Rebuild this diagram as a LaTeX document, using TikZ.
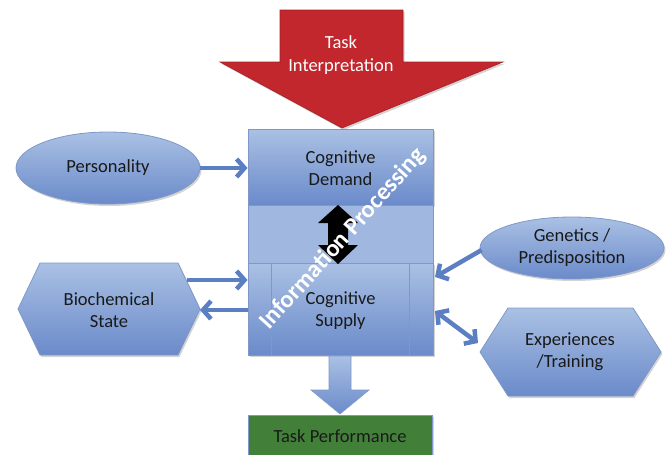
\documentclass[tikz,border=0pt]{standalone}
\usepackage{fontspec}
\setmainfont{Carlito}
\usetikzlibrary{arrows.meta,shapes.geometric,shadows}
\definecolor{bluetop}{HTML}{AAC1E4}
\definecolor{bluebot}{HTML}{6A8ACA}
\definecolor{blueedge}{HTML}{7F98C8}
\definecolor{bluemid}{HTML}{A0B7DF}
\definecolor{conn}{HTML}{5B7FC2}
\definecolor{redarrow}{HTML}{C1272D}
\definecolor{greenbox}{HTML}{42803A}
\tikzset{
  lbl/.style={font=\fontsize{18.5}{22}\selectfont, text=black!90, align=center},
  bluefill/.style={top color=bluetop, bottom color=bluebot, draw=blueedge, line width=0.8pt},
  shad/.style={drop shadow={shadow xshift=1.5pt, shadow yshift=-2pt, opacity=0.35}},
  conn/.style={draw=conn, line width=4.5pt, -{Straight Barb[length=8pt,width=18pt,line width=4.5pt]}},
  dconn/.style={draw=conn, line width=4.5pt, {Straight Barb[length=8pt,width=18pt,line width=4.5pt]}-{Straight Barb[length=8pt,width=18pt,line width=4.5pt]}},
}
\begin{document}
\begin{tikzpicture}[x=1pt,y=-1pt]
\useasboundingbox (0,0) rectangle (667,455);
% main boxes
\node[bluefill, shad, minimum width=185pt, minimum height=76pt, inner sep=0] (demand) at (340.5,167) {};
\node[fill=bluemid, draw=blueedge, line width=0.8pt, minimum width=185pt, minimum height=58pt, inner sep=0] (mid) at (340.5,234) {};
\node[bluefill, shad, minimum width=185pt, minimum height=92pt, inner sep=0] (supply) at (340.5,309) {};
\draw[blueedge, line width=0.8pt] (271,263) -- (271,355) (409,263) -- (409,355);
\node[lbl] at (340.5,168) {Cognitive\\Demand};
\node[lbl] at (340.5,311) {Cognitive\\Supply};
% black double arrow
\fill[black] (338,205) -- (358,223) -- (348,223) -- (348,245) -- (358,245) -- (338,264) -- (318,245) -- (328,245) -- (328,223) -- (318,223) -- cycle;
% rotated text
\node[rotate=48, text=white, font=\bfseries\fontsize{24.5}{28}\selectfont] (ip) at (343,239) {Information Processing};
% red arrow
\path[fill=redarrow, draw=redarrow!85!black, line width=0.6pt, shad] (280,10) -- (403,10) -- (403,62) -- (503,62) -- (342,128) -- (220,62) -- (280,62) -- cycle;
\node[text=white, align=center, font=\fontsize{18.5}{23}\selectfont] (ti) at (341,55) {Task\\Interpretation};
% personality
\node[ellipse, bluefill, shad, minimum width=184pt, minimum height=72pt, inner sep=0] (pers) at (108,168) {};
\node[lbl] at (108,168) {Personality};
% biochemical state
\path[bluefill, shad] (18,309) -- (40,263) -- (178,263) -- (200,309) -- (178,355) -- (40,355) -- cycle;
\node[lbl] (bio) at (109,310) {Biochemical\\State};
% genetics
\node[ellipse, bluefill, shad, minimum width=184pt, minimum height=62pt, inner sep=0] (gen) at (572,248) {};
\node[lbl] at (572,248) {Genetics /\\Predisposition};
% experiences
\path[bluefill, shad] (480,352) -- (508,308) -- (633,308) -- (661,352) -- (633,396) -- (508,396) -- cycle;
\node[lbl] (exp) at (570,352) {Experiences\\/Training};
\coordinate (bioR) at (200,309);
\coordinate (expL) at (480,352);
% task performance
\node[fill=greenbox, draw=blueedge, line width=0.8pt, shad, minimum width=184pt, minimum height=44pt, inner sep=0] (perf) at (340,437) {};
\node[lbl] at (340,436) {Task Performance};
% down arrow
\path[top color=bluetop, bottom color=bluebot, draw=blueedge, line width=0.6pt] (329,356) -- (351,356) -- (351,390) -- (369,390) -- (340,414) -- (311,390) -- (329,390) -- cycle;
% connectors
\draw[conn] (pers.east) -- (demand.west |- pers.east);
\draw[conn] (187,280) -- (supply.west |- 0,280);
\draw[conn] (supply.west |- 0,310) -- (bioR |- 0,310);
\draw[conn] (gen.west) ++(2,2) -- (435,277);
\draw[dconn] (435,311) -- (478,343);
\end{tikzpicture}
\end{document}
